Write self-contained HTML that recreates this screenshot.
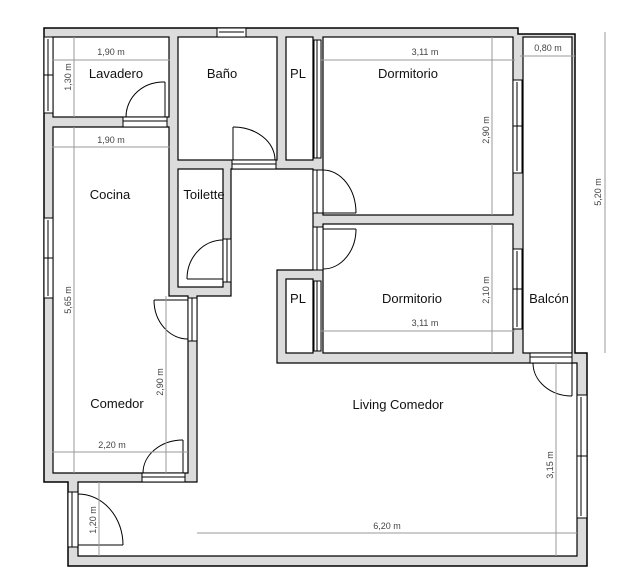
<!DOCTYPE html>
<html><head><meta charset="utf-8"><style>
html,body{margin:0;padding:0;background:#fff;}
svg{display:block;font-family:"Liberation Sans",sans-serif;}
.r{fill:#fff;stroke:#000;stroke-width:1.2}
.d{stroke:#999;stroke-width:1;fill:none}
.dt{font-size:9px;fill:#444;text-anchor:middle}
.lb{font-size:13px;fill:#111;text-anchor:middle}
.w{fill:#fff;stroke:#000;stroke-width:1}
.arc{fill:none;stroke:#000;stroke-width:1}
</style></head><body>
<svg width="642" height="585" viewBox="0 0 642 585">
<!-- wall mass -->
<polygon points="44,28 518,28 518,34 575,34 575,353 587,353 587,566 68,566 68,482 44,482" fill="#dcdcdc" stroke="#000" stroke-width="1.5"/>
<!-- rooms -->
<rect class="r" x="53" y="37" width="116" height="80"/>
<rect class="r" x="178" y="37" width="99" height="123"/>
<rect class="r" x="286" y="37" width="27" height="123"/>
<rect class="r" x="323" y="37" width="190" height="178"/>
<rect class="r" x="323" y="224" width="190" height="129"/>
<rect class="r" x="523" y="37" width="49" height="316"/>
<rect class="r" x="178" y="169" width="45" height="118"/>
<rect class="r" x="286" y="279" width="27" height="74"/>
<polygon class="r" points="53,127 169,127 169,296 188,296 188,473 53,473"/>
<polygon class="r" points="231,169 313,169 313,270 277,270 277,363 577,363 577,556 78,556 78,482 197,482 197,296 231,296"/>
<!-- windows -->
<rect class="w" x="217" y="28" width="29" height="9"/><line x1="219" y1="32" x2="244" y2="32" stroke="#000"/>
<rect class="w" x="44" y="37" width="9" height="76"/><line x1="48" y1="39" x2="48" y2="111" stroke="#000"/><line x1="44" y1="75" x2="53" y2="75" stroke="#000"/>
<rect class="w" x="44" y="218" width="9" height="80"/><line x1="48" y1="220" x2="48" y2="296" stroke="#000"/><line x1="44" y1="258" x2="53" y2="258" stroke="#000"/>
<rect class="w" x="513" y="80" width="9" height="93"/><line x1="517" y1="82" x2="517" y2="171" stroke="#000"/><line x1="513" y1="126" x2="522" y2="126" stroke="#000"/>
<rect class="w" x="513" y="249" width="9" height="80"/><line x1="517" y1="251" x2="517" y2="327" stroke="#000"/><line x1="513" y1="289" x2="522" y2="289" stroke="#000"/>
<rect class="w" x="577" y="395" width="10" height="123"/><line x1="581" y1="397" x2="581" y2="516" stroke="#000"/><line x1="577" y1="456" x2="587" y2="456" stroke="#000"/>
<!-- PL sliding -->
<rect class="w" x="314" y="40" width="7" height="118"/><line x1="317" y1="40" x2="317" y2="158" stroke="#000"/>
<rect class="w" x="314" y="281" width="7" height="70"/><line x1="317" y1="281" x2="317" y2="351" stroke="#000"/>
<!-- balcony rail -->
<line x1="572" y1="37" x2="572" y2="353" stroke="#000"/>
<!-- doors -->
<rect class="w" x="123" y="117" width="44" height="10"/><line x1="123" y1="121" x2="167" y2="121" stroke="#000"/>
<line x1="165" y1="117" x2="165" y2="82" stroke="#000"/><path class="arc" d="M165,82 A37,35 0 0 0 126,117"/>
<rect class="w" x="232" y="160" width="44" height="9"/><line x1="232" y1="164" x2="276" y2="164" stroke="#000"/>
<line x1="233" y1="160" x2="233" y2="127" stroke="#000"/><path class="arc" d="M233,127 A42,33 0 0 1 275,160"/>
<rect class="w" x="223" y="239" width="8" height="43"/><line x1="227" y1="239" x2="227" y2="282" stroke="#000"/>
<line x1="187" y1="279" x2="223" y2="279" stroke="#000"/><path class="arc" d="M223,240 A36,39 0 0 0 187,279"/>
<rect class="w" x="188" y="298" width="9" height="43"/><line x1="192" y1="298" x2="192" y2="341" stroke="#000"/>
<line x1="154" y1="300" x2="188" y2="300" stroke="#000"/><path class="arc" d="M154,300 A34,39 0 0 0 188,339"/>
<rect class="w" x="142" y="473" width="43" height="9"/><line x1="142" y1="477" x2="185" y2="477" stroke="#000"/>
<line x1="183" y1="473" x2="183" y2="440" stroke="#000"/><path class="arc" d="M183,440 A40,33 0 0 0 143,473"/>
<rect class="w" x="68" y="492" width="10" height="55"/><line x1="72" y1="492" x2="72" y2="547" stroke="#000"/>
<line x1="78" y1="545" x2="123" y2="545" stroke="#000"/><path class="arc" d="M78,494 A45,51 0 0 1 123,545"/>
<rect class="w" x="313" y="170" width="10" height="43"/><line x1="317" y1="170" x2="317" y2="213" stroke="#000"/>
<line x1="323" y1="213" x2="356" y2="213" stroke="#000"/><path class="arc" d="M323,170 A33,43 0 0 1 356,213"/>
<rect class="w" x="313" y="227" width="10" height="43"/><line x1="317" y1="227" x2="317" y2="270" stroke="#000"/>
<line x1="323" y1="229" x2="356" y2="229" stroke="#000"/><path class="arc" d="M356,229 A33,40 0 0 1 323,269"/>
<rect class="w" x="530" y="353" width="42" height="10"/><line x1="530" y1="357" x2="572" y2="357" stroke="#000"/>
<line x1="572" y1="363" x2="572" y2="396" stroke="#000"/><path class="arc" d="M533,363 A39,33 0 0 0 572,396"/>
<!-- dimensions -->
<g class="d">
<line x1="52" y1="60" x2="170" y2="60"/><line x1="74" y1="37" x2="74" y2="117"/>
<line x1="52" y1="147" x2="170" y2="147"/><line x1="74" y1="127" x2="74" y2="473"/>
<line x1="166" y1="296" x2="166" y2="473"/><line x1="52" y1="452" x2="188" y2="452"/>
<line x1="99" y1="482" x2="99" y2="556"/><line x1="197" y1="533" x2="577" y2="533"/>
<line x1="556" y1="363" x2="556" y2="556"/><line x1="320" y1="60" x2="515" y2="60"/>
<line x1="492" y1="37" x2="492" y2="215"/><line x1="520" y1="56" x2="575" y2="56"/>
<line x1="605" y1="32" x2="605" y2="353"/><line x1="492" y1="224" x2="492" y2="353"/>
<line x1="320" y1="331" x2="515" y2="331"/>
</g>
<text class="dt" x="111" y="55">1,90 m</text>
<text class="dt" x="111" y="143">1,90 m</text>
<text class="dt" x="112" y="448">2,20 m</text>
<text class="dt" x="387" y="529">6,20 m</text>
<text class="dt" x="425" y="55">3,11 m</text>
<text class="dt" x="425" y="326">3,11 m</text>
<text class="dt" x="548" y="51">0,80 m</text>
<text class="dt" transform="translate(71,77) rotate(-90)">1,30 m</text>
<text class="dt" transform="translate(71,300) rotate(-90)">5,65 m</text>
<text class="dt" transform="translate(163,382) rotate(-90)">2,90 m</text>
<text class="dt" transform="translate(96,520) rotate(-90)">1,20 m</text>
<text class="dt" transform="translate(553,465) rotate(-90)">3,15 m</text>
<text class="dt" transform="translate(489,130) rotate(-90)">2,90 m</text>
<text class="dt" transform="translate(489,290) rotate(-90)">2,10 m</text>
<text class="dt" transform="translate(601,192) rotate(-90)">5,20 m</text>
<!-- labels -->
<text class="lb" x="116" y="78">Lavadero</text>
<text class="lb" x="222" y="78">Baño</text>
<text class="lb" x="298" y="78">PL</text>
<text class="lb" x="408" y="78">Dormitorio</text>
<text class="lb" x="110" y="199">Cocina</text>
<text class="lb" x="204" y="199">Toilette</text>
<text class="lb" x="298" y="303">PL</text>
<text class="lb" x="412" y="303">Dormitorio</text>
<text class="lb" x="549" y="303">Balcón</text>
<text class="lb" x="117" y="408">Comedor</text>
<text class="lb" x="398" y="409">Living Comedor</text>
</svg>
</body></html>
